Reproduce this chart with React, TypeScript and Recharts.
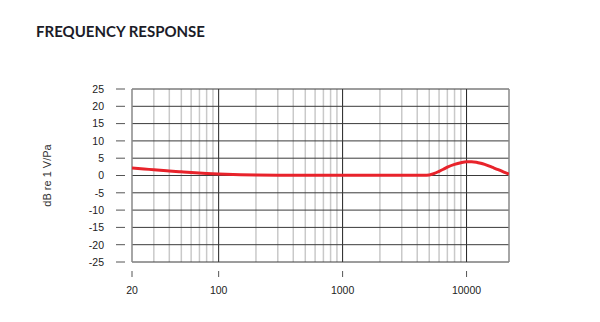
import React from 'react';
import { LineChart, Line, XAxis, YAxis, ReferenceLine } from 'recharts';

const freqs = [20, 25, 30, 40, 50, 60, 80, 100, 150, 200, 300, 500, 1000, 2000, 3000, 4000, 4500, 5000, 5500, 6000, 6500, 7000, 8000, 9000, 10000, 11000, 12000, 13000, 14000, 16000, 18000, 20000, 22000];
const levels = [2.2, 1.9, 1.65, 1.3, 1.05, 0.85, 0.6, 0.45, 0.25, 0.15, 0.08, 0.05, 0.05, 0.05, 0.05, 0.05, 0.06, 0.15, 0.6, 1.2, 1.8, 2.4, 3.2, 3.7, 3.98, 4.0, 3.85, 3.55, 3.2, 2.4, 1.7, 1.0, 0.4];

const xTicks = [20, 100, 1000, 10000];
const yTicks = [-25, -20, -15, -10, -5, 0, 5, 10, 15, 20, 25];
const majorFreqs = [100, 1000, 10000];
const minorFreqs = [30, 40, 50, 60, 70, 80, 90, 200, 300, 400, 500, 600, 700, 800, 900, 2000, 3000, 4000, 5000, 6000, 7000, 8000, 9000];
const xDomain = [20, 22000];
const yDomain = [-25, 25];

const data = freqs.map((f, i) => ({ f, v: levels[i] }));

const tickFont = '"Liberation Sans", Arial, sans-serif';

const YTick = (props: any) => {
  const { x, y, payload } = props;
  return (
    <g>
      <line x1={x - 16} x2={x - 7} y1={y} y2={y} stroke="#555" strokeWidth={1} />
      <text x={x - 28} y={y} dy={3.8} textAnchor="end" fontSize={10.5} fill="#222" fontFamily={tickFont}>
        {payload.value}
      </text>
    </g>
  );
};

const XTick = (props: any) => {
  const { x, y, payload } = props;
  return (
    <g>
      <line x1={x} x2={x} y1={y + 9} y2={y + 15} stroke="#555" strokeWidth={1} />
      <text x={x} y={y + 32} textAnchor="middle" fontSize={10.5} fill="#222" fontFamily={tickFont}>
        {payload.value}
      </text>
    </g>
  );
};

export default function App() {
  return (
    <div style={{ position: 'relative', width: 592, height: 306 }}>
      <div
        style={{
          position: 'absolute',
          left: 28,
          top: 14,
          fontFamily: 'Lato, "Open Sans", sans-serif',
          fontWeight: 700,
          fontSize: 15,
          color: '#1c1c28',
          whiteSpace: 'nowrap',
        }}
      >
        FREQUENCY RESPONSE
      </div>
      <LineChart width={592} height={306} data={data} margin={{ top: 81, right: 91, bottom: 12, left: 20 }}>
        <XAxis
          dataKey="f"
          type="number"
          scale="log"
          domain={xDomain}
          ticks={xTicks}
          allowDataOverflow
          axisLine={false}
          tickLine={false}
          tickSize={0}
          tickMargin={0}
          height={40}
          tick={<XTick />}
          interval={0}
        />
        <YAxis
          type="number"
          domain={yDomain}
          ticks={yTicks}
          axisLine={false}
          tickLine={false}
          tickSize={0}
          tickMargin={0}
          width={104}
          tick={<YTick />}
          interval={0}
          label={{
            content: (p: any) => {
              const vb = p.viewBox || { x: 20, y: 81, height: 173 };
              const cx = vb.x + 19;
              const cy = vb.y + vb.height / 2;
              return (
                <text
                  x={cx}
                  y={cy}
                  transform={`rotate(-90 ${cx} ${cy})`}
                  textAnchor="middle"
                  dy={4}
                  fontSize={11}
                  fill="#333"
                  fontFamily={tickFont}
                >
                  dB re 1 V/Pa
                </text>
              );
            },
          }}
        />
        {minorFreqs.map((f) => (
          <ReferenceLine key={'mi' + f} x={f} stroke="#c9c9c9" strokeWidth={1.5} />
        ))}
        {majorFreqs.map((f) => (
          <ReferenceLine key={'ma' + f} x={f} stroke="#222" strokeWidth={1} />
        ))}
        {yTicks.map((t) => (
          <ReferenceLine key={'h' + t} y={t} stroke="#3a3a3a" strokeWidth={1} />
        ))}
        <ReferenceLine x={xDomain[0]} stroke="#888" strokeWidth={1.5} />
        <ReferenceLine x={xDomain[1]} stroke="#888" strokeWidth={1.5} />
        <Line
          dataKey="v"
          type="monotone"
          stroke="#e8232b"
          strokeWidth={3}
          dot={false}
          isAnimationActive={false}
        />
      </LineChart>
    </div>
  );
}
